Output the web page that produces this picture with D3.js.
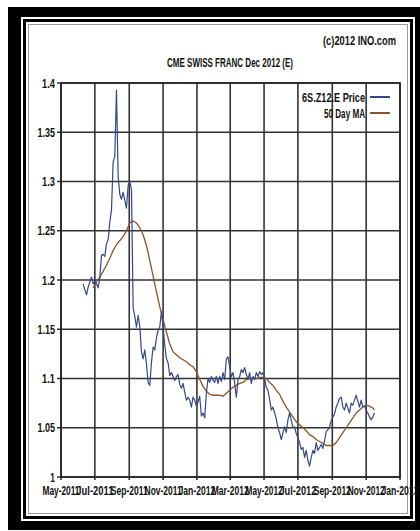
<!DOCTYPE html>
<html><head><meta charset="utf-8">
<script src="https://cdn.jsdelivr.net/npm/d3@7"></script>
<style>html,body{margin:0;padding:0;background:#fff;}svg{display:block;}</style>
</head><body>
<svg id="chart" width="420" height="531"></svg>
<script>
const titleText = "CME SWISS FRANC Dec 2012 (E)";
const creditText = "(c)2012 INO.com";
const seriesNames = ["6S.Z12.E Price", "50 Day MA"];
const xTickDates = ["2011-05-01","2011-07-01","2011-09-01","2011-11-01","2012-01-01","2012-03-01","2012-05-01","2012-07-01","2012-09-01","2012-11-01","2013-01-01"];
const xTickLabels = ["May-2011","Jul-2011","Sep-2011","Nov-2011","Jan-2012","Mar-2012","May-2012","Jul-2012","Sep-2012","Nov-2012","Jan-2013"];
const yTicks = [1, 1.05, 1.1, 1.15, 1.2, 1.25, 1.3, 1.35, 1.4];
const yTickLabels = ["1","1.05","1.1","1.15","1.2","1.25","1.3","1.35","1.4"];

const priceDates = ["2011-06-10","2011-06-13","2011-06-16","2011-06-19","2011-06-22","2011-06-25","2011-06-28","2011-07-01","2011-07-04","2011-07-07","2011-07-10","2011-07-13","2011-07-16","2011-07-19","2011-07-22","2011-07-25","2011-07-28","2011-07-31","2011-08-03","2011-08-06","2011-08-09","2011-08-12","2011-08-15","2011-08-18","2011-08-21","2011-08-24","2011-08-27","2011-08-30","2011-09-02","2011-09-05","2011-09-08","2011-09-11","2011-09-14","2011-09-17","2011-09-20","2011-09-23","2011-09-26","2011-09-29","2011-10-02","2011-10-05","2011-10-08","2011-10-11","2011-10-14","2011-10-17","2011-10-20","2011-10-23","2011-10-26","2011-10-29","2011-11-01","2011-11-04","2011-11-07","2011-11-10","2011-11-13","2011-11-16","2011-11-19","2011-11-22","2011-11-25","2011-11-28","2011-12-01","2011-12-04","2011-12-07","2011-12-10","2011-12-13","2011-12-16","2011-12-19","2011-12-22","2011-12-25","2011-12-28","2011-12-31","2012-01-03","2012-01-06","2012-01-09","2012-01-12","2012-01-15","2012-01-18","2012-01-21","2012-01-24","2012-01-27","2012-01-30","2012-02-02","2012-02-05","2012-02-08","2012-02-11","2012-02-14","2012-02-17","2012-02-20","2012-02-23","2012-02-26","2012-02-29","2012-03-03","2012-03-06","2012-03-09","2012-03-12","2012-03-15","2012-03-18","2012-03-21","2012-03-24","2012-03-27","2012-03-30","2012-04-02","2012-04-05","2012-04-08","2012-04-11","2012-04-14","2012-04-17","2012-04-20","2012-04-23","2012-04-26","2012-04-29","2012-05-02","2012-05-05","2012-05-08","2012-05-11","2012-05-14","2012-05-17","2012-05-20","2012-05-23","2012-05-26","2012-05-29","2012-06-01","2012-06-04","2012-06-07","2012-06-10","2012-06-13","2012-06-16","2012-06-19","2012-06-22","2012-06-25","2012-06-28","2012-07-01","2012-07-04","2012-07-07","2012-07-10","2012-07-13","2012-07-16","2012-07-19","2012-07-22","2012-07-25","2012-07-28","2012-07-31","2012-08-03","2012-08-06","2012-08-09","2012-08-12","2012-08-15","2012-08-18","2012-08-21","2012-08-24","2012-08-27","2012-08-30","2012-09-02","2012-09-05","2012-09-08","2012-09-11","2012-09-14","2012-09-17","2012-09-20","2012-09-23","2012-09-26","2012-09-29","2012-10-02","2012-10-05","2012-10-08","2012-10-11","2012-10-14","2012-10-17","2012-10-20","2012-10-23","2012-10-26","2012-10-29","2012-11-01","2012-11-04","2012-11-07","2012-11-10","2012-11-13","2012-11-16"];
const priceValues = [1.196,1.190,1.185,1.193,1.198,1.203,1.196,1.199,1.196,1.192,1.203,1.225,1.226,1.224,1.237,1.241,1.259,1.271,1.320,1.326,1.393,1.305,1.287,1.282,1.289,1.281,1.273,1.296,1.300,1.292,1.172,1.163,1.152,1.164,1.153,1.127,1.120,1.129,1.115,1.096,1.093,1.116,1.132,1.129,1.141,1.149,1.152,1.168,1.152,1.134,1.120,1.116,1.103,1.106,1.102,1.098,1.102,1.104,1.094,1.090,1.095,1.086,1.078,1.081,1.078,1.071,1.081,1.078,1.072,1.076,1.082,1.062,1.065,1.060,1.085,1.100,1.096,1.102,1.098,1.096,1.102,1.095,1.102,1.097,1.106,1.099,1.120,1.122,1.112,1.102,1.106,1.095,1.081,1.099,1.102,1.109,1.106,1.111,1.104,1.099,1.106,1.095,1.102,1.099,1.106,1.102,1.107,1.104,1.106,1.100,1.091,1.088,1.079,1.068,1.071,1.065,1.059,1.050,1.045,1.038,1.045,1.051,1.045,1.058,1.065,1.058,1.050,1.051,1.044,1.040,1.035,1.028,1.030,1.020,1.027,1.017,1.011,1.020,1.027,1.024,1.035,1.027,1.030,1.033,1.029,1.037,1.046,1.048,1.051,1.057,1.061,1.064,1.071,1.075,1.080,1.081,1.071,1.068,1.075,1.070,1.065,1.075,1.073,1.078,1.083,1.077,1.071,1.078,1.071,1.072,1.068,1.065,1.061,1.058,1.061,1.065];

const maDates = ["2011-06-28","2011-07-04","2011-07-10","2011-07-16","2011-07-22","2011-07-28","2011-08-03","2011-08-09","2011-08-15","2011-08-21","2011-08-27","2011-09-02","2011-09-08","2011-09-14","2011-09-20","2011-09-26","2011-10-02","2011-10-08","2011-10-14","2011-10-20","2011-10-26","2011-11-01","2011-11-07","2011-11-13","2011-11-19","2011-11-25","2011-12-01","2011-12-07","2011-12-13","2011-12-19","2011-12-25","2011-12-31","2012-01-06","2012-01-12","2012-01-18","2012-01-24","2012-01-30","2012-02-05","2012-02-11","2012-02-17","2012-02-23","2012-02-29","2012-03-06","2012-03-12","2012-03-18","2012-03-24","2012-03-30","2012-04-05","2012-04-11","2012-04-17","2012-04-23","2012-04-29","2012-05-05","2012-05-11","2012-05-17","2012-05-23","2012-05-29","2012-06-04","2012-06-10","2012-06-16","2012-06-22","2012-06-28","2012-07-04","2012-07-10","2012-07-16","2012-07-22","2012-07-28","2012-08-03","2012-08-09","2012-08-15","2012-08-21","2012-08-27","2012-09-02","2012-09-08","2012-09-14","2012-09-20","2012-09-26","2012-10-02","2012-10-08","2012-10-14","2012-10-20","2012-10-26","2012-11-01","2012-11-07","2012-11-13","2012-11-16"];
const maValues = [1.192,1.198,1.203,1.209,1.215,1.222,1.230,1.236,1.240,1.244,1.250,1.258,1.260,1.258,1.253,1.246,1.235,1.220,1.204,1.188,1.173,1.160,1.147,1.135,1.127,1.124,1.121,1.119,1.117,1.114,1.112,1.107,1.099,1.092,1.087,1.084,1.083,1.083,1.083,1.082,1.085,1.088,1.091,1.093,1.095,1.096,1.099,1.100,1.100,1.100,1.101,1.101,1.100,1.096,1.093,1.088,1.084,1.077,1.071,1.066,1.061,1.056,1.053,1.050,1.047,1.043,1.041,1.038,1.036,1.034,1.032,1.032,1.032,1.035,1.040,1.045,1.050,1.055,1.060,1.065,1.068,1.071,1.073,1.072,1.070,1.068];

const seriesColors = ["#34478a", "#8a5428"];

const parse = d3.timeParse("%Y-%m-%d");
const svg = d3.select("#chart");
const FONT = "'Liberation Sans Narrow','Liberation Sans',Arial,sans-serif";

// outer frame: thick black band, white gap, thin black line, hairline
svg.append("rect").attr("x",0).attr("y",0).attr("width",420).attr("height",531).attr("fill","#fff");
svg.append("path")
  .attr("fill","#000").attr("fill-rule","evenodd")
  .attr("d","M8,7H420V530H8Z M21,17V521H415V17Z");
svg.append("path")
  .attr("fill","#000").attr("fill-rule","evenodd")
  .attr("d","M23,19H413V519H23Z M26,22V516H410V22Z");
svg.append("rect").attr("x",28.5).attr("y",24.5).attr("width",379).attr("height",489)
  .attr("fill","none").attr("stroke","#999").attr("stroke-width",1);

const L = 61, R = 400, T = 83, B = 477;
const x = d3.scaleTime().domain([parse(xTickDates[0]), parse(xTickDates[xTickDates.length-1])]).range([L, R]);
const y = d3.scaleLinear().domain([1, 1.4]).range([B, T]);

function squeezeText(sel, txt, w) {
  sel.text(txt).attr("textLength", w).attr("lengthAdjust", "spacingAndGlyphs");
}
function labelWidth(s) {
  let w = 0;
  for (const c of s) w += (c === ".") ? 3.5 : 4.7;
  return w;
}

// grid
const grid = svg.append("g");
grid.selectAll("line.h").data(yTicks).join("line")
  .attr("x1", L - 4).attr("x2", R).attr("y1", d => y(d)).attr("y2", d => y(d))
  .attr("stroke", "#333").attr("stroke-width", 1.6);
grid.selectAll("line.v").data(xTickDates).join("line")
  .attr("x1", d => x(parse(d))).attr("x2", d => x(parse(d))).attr("y1", T).attr("y2", B + 3)
  .attr("stroke", "#333").attr("stroke-width", 1.6);
svg.append("rect").attr("x", L).attr("y", T).attr("width", R - L).attr("height", B - T)
  .attr("fill", "none").attr("stroke", "#222").attr("stroke-width", 1.6);

const txtStyle = sel => sel.attr("font-family", FONT).attr("font-size", 13.5).attr("font-weight", "bold").attr("fill", "#111");

// y labels
svg.append("g").selectAll("text").data(yTicks).join("text")
  .attr("x", 55).attr("y", d => y(d) + 4.5).attr("text-anchor", "end")
  .call(txtStyle)
  .each(function(d, i) { squeezeText(d3.select(this), yTickLabels[i], labelWidth(yTickLabels[i])); });

// x labels
svg.append("g").selectAll("text").data(xTickDates).join("text")
  .attr("x", d => x(parse(d))).attr("y", 495).attr("text-anchor", "middle")
  .call(txtStyle)
  .each(function(d, i) { squeezeText(d3.select(this), xTickLabels[i], 37); });

// title & credit
squeezeText(svg.append("text").attr("x", 230).attr("y", 66.5).attr("text-anchor", "middle").call(txtStyle), titleText, 126);
squeezeText(svg.append("text").attr("x", 396).attr("y", 44.5).attr("text-anchor", "end").call(txtStyle), creditText, 73);

// lines
const priceData = priceDates.map((d, i) => ({ date: parse(d), value: priceValues[i] }));
const maData = maDates.map((d, i) => ({ date: parse(d), value: maValues[i] }));
const line = d3.line().x(d => x(d.date)).y(d => y(d.value));
svg.append("path").datum(maData).attr("d", line).attr("fill", "none")
  .attr("stroke", seriesColors[1]).attr("stroke-width", 1.3);
svg.append("path").datum(priceData).attr("d", line).attr("fill", "none")
  .attr("stroke", seriesColors[0]).attr("stroke-width", 1.2).attr("stroke-linejoin", "round");

// legend
const legendY = [97, 113];
const legendW = [63, 41];
const lg = svg.append("g");
seriesNames.forEach((name, i) => {
  squeezeText(lg.append("text").attr("x", 365).attr("y", legendY[i] + 4.5).attr("text-anchor", "end").call(txtStyle), name, legendW[i]);
  lg.append("line").attr("x1", 370).attr("x2", 390).attr("y1", legendY[i]).attr("y2", legendY[i])
    .attr("stroke", seriesColors[i]).attr("stroke-width", 2);
});
</script>
</body></html>
